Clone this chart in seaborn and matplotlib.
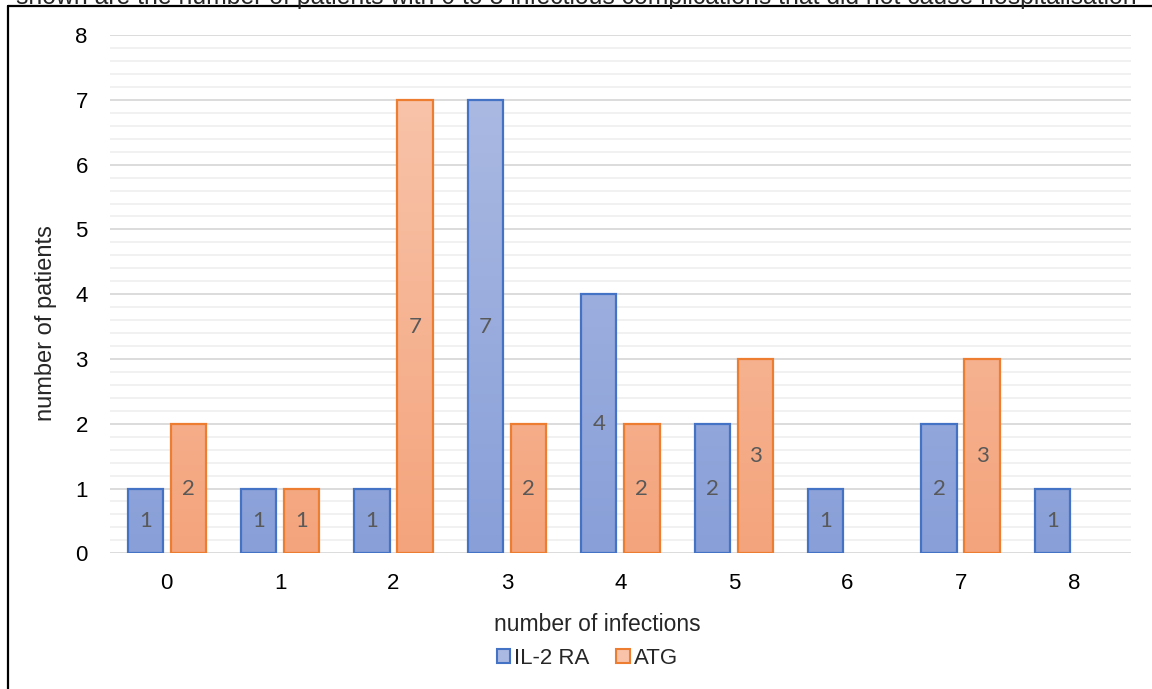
import numpy as np
import pandas as pd
import matplotlib.pyplot as plt
import seaborn as sns
from matplotlib.lines import Line2D
from matplotlib.patches import Patch

# Data
infections = [0, 1, 2, 3, 4, 5, 6, 7, 8]
il2ra = [1, 1, 1, 7, 4, 2, 1, 2, 1]
atg = [2, 1, 7, 2, 2, 3, 0, 3, 0]
groups = ['IL-2 RA', 'ATG']
title = 'shown are the number of patients with 0 to 8 infectious complications that did not cause hospitalisation'

df = pd.DataFrame({
    'infections': infections * 2,
    'patients': il2ra + atg,
    'group': [groups[0]] * len(infections) + [groups[1]] * len(infections),
})
df = df[df['patients'] > 0]

sns.set_theme(style='white')
plt.rcParams['font.family'] = ['Liberation Sans', 'DejaVu Sans']

edge = {'IL-2 RA': '#4472c4', 'ATG': '#ed7d31'}
grad = {'IL-2 RA': ('#aab9e2', '#889fd8'), 'ATG': ('#f8c3a9', '#f4a47c')}

fig = plt.figure(figsize=(11.52, 6.89), dpi=100)
ax = fig.add_axes([0.0955, 0.197, 0.886, 0.752])

sns.barplot(data=df, x='infections', y='patients', hue='group', hue_order=groups,
            order=infections, width=0.76, gap=0.18, ax=ax, legend=False,
            palette=[edge[g] for g in groups], linewidth=1.6, errorbar=None)

# gradient fill, edge colours and value labels in the middle of each bar
for cont, g in zip(ax.containers, groups):
    top, bot = grad[g]
    cmap = sns.blend_palette([bot, top], as_cmap=True)
    for bar in cont:
        h = bar.get_height()
        if np.isnan(h) or h == 0:
            continue
        bar.set_facecolor('none')
        bar.set_edgecolor(edge[g])
        bar.set_zorder(3)
        x0 = bar.get_x()
        w = bar.get_width()
        img = ax.imshow(np.linspace(h / 7.0, 0, 100).reshape(-1, 1),
                        extent=(x0, x0 + w, 0, h), aspect='auto', cmap=cmap,
                        vmin=0, vmax=1, zorder=2, origin='upper')
        img.set_clip_path(bar)
        ax.text(x0 + w / 2, h / 2, f'{int(h)}', ha='center', va='center',
                fontsize=16, color='#595959', family=['Lato', 'DejaVu Sans'], zorder=4)

ax.set_xlim(-0.5, 8.5)
ax.set_ylim(0, 8)
ax.set_yticks(range(0, 9))
ax.set_yticks(np.arange(0, 8.01, 0.2), minor=True)
ax.yaxis.grid(True, which='major', color='#d9d9d9', linewidth=1.3, zorder=0)
ax.yaxis.grid(True, which='minor', color='#f0f0f0', linewidth=1.3, zorder=0)
ax.set_axisbelow(True)
ax.tick_params(axis='both', which='both', length=0, labelsize=16, colors='black')
ax.tick_params(axis='y', pad=16)
ax.tick_params(axis='x', pad=14)
for s in ax.spines.values():
    s.set_visible(False)
ax.set_xlabel('number of infections', fontsize=16.5)
ax.xaxis.set_label_coords(0.477, -0.115)
ax.set_ylabel('number of patients', fontsize=17)
ax.yaxis.set_label_coords(-0.052, 0.444)

handles = [Patch(facecolor=grad[g][0], edgecolor=edge[g], linewidth=1.5, label=g) for g in groups]
fig.legend(handles=handles, loc='center', bbox_to_anchor=(0.51, 0.044), ncol=2,
           frameon=False, fontsize=16, handlelength=0.6, handleheight=0.6,
           handletextpad=0.2, columnspacing=1.2)

# cropped title and frame at the top-left
fig.text(0.5, 1 - 4 / 689, title, ha='center', va='baseline', fontsize=17.8)
fig.add_artist(Line2D([8 / 1152, 1.0], [1 - 6 / 689] * 2, color='black', linewidth=1.6))
fig.add_artist(Line2D([8 / 1152] * 2, [0, 1 - 6 / 689], color='black', linewidth=1.6))

fig.savefig('out.png', dpi=100)
